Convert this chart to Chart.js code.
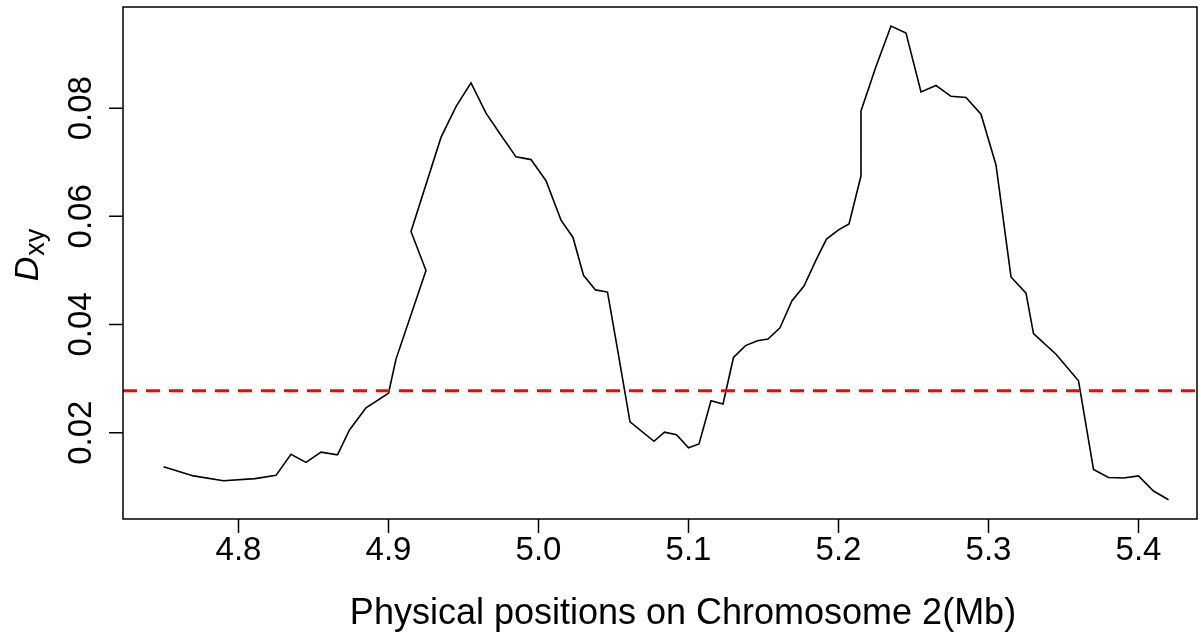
<!DOCTYPE html>
<html><head><meta charset="utf-8">
<script src="https://cdn.jsdelivr.net/npm/chart.js@4/dist/chart.umd.min.js"></script>
<style>html,body{margin:0;padding:0;background:#fff;}#wrap{width:1199px;height:639px;}</style>
</head><body><div id="wrap"><canvas id="c" width="1199" height="639"></canvas></div>
<script>
// ---- data ----
const positionsMb = [4.750,4.770,4.790,4.811,4.825,4.835,4.845,4.855,4.866,4.874,4.885,4.900,4.905,4.925,4.915,4.935,4.945,4.955,4.965,4.975,4.985,4.995,5.005,5.015,5.023,5.030,5.038,5.046,5.053,5.061,5.077,5.084,5.092,5.100,5.107,5.115,5.123,5.130,5.138,5.146,5.153,5.161,5.169,5.177,5.185,5.192,5.200,5.207,5.215,5.215,5.225,5.235,5.245,5.255,5.265,5.275,5.285,5.295,5.305,5.315,5.325,5.330,5.345,5.360,5.370,5.380,5.390,5.400,5.410,5.420];
const dxyValues = [0.0137,0.0120,0.0111,0.0115,0.0121,0.0160,0.0145,0.0164,0.0159,0.0205,0.0246,0.0273,0.0336,0.0500,0.0572,0.0746,0.0803,0.0847,0.0791,0.0750,0.0710,0.0705,0.0666,0.0593,0.0561,0.0491,0.0464,0.0460,0.0349,0.0220,0.0184,0.0201,0.0196,0.0172,0.0179,0.0259,0.0253,0.0339,0.0361,0.0370,0.0373,0.0394,0.0444,0.0471,0.0519,0.0558,0.0575,0.0586,0.0675,0.0795,0.0877,0.0952,0.0939,0.0830,0.0842,0.0822,0.0820,0.0789,0.0695,0.0488,0.0458,0.0383,0.0345,0.0296,0.0132,0.0117,0.0116,0.0120,0.0092,0.0076];
const thresholdValue = 0.02775;
const xTickValues = [4.8,4.9,5.0,5.1,5.2,5.3,5.4];
const xTickLabels = ['4.8','4.9','5.0','5.1','5.2','5.3','5.4'];
const yTickValues = [0.02,0.04,0.06,0.08];
const yTickLabels = ['0.02','0.04','0.06','0.08'];
const xAxisTitle = 'Physical positions on Chromosome 2(Mb)';
const yAxisTitleMain = 'D';
const yAxisTitleSub = 'xy';
const xRange = [4.723, 5.439];
const yRange = [0.00403, 0.09872];

// ---- styling ----
const FAM = '"Liberation Sans", Arial, Helvetica, sans-serif';

function drawText(ctx, text, x, y, rotate) {
  ctx.save();
  ctx.translate(x, y);
  if (rotate) ctx.rotate(-Math.PI / 2);
  ctx.fillText(text, 0, 0);
  ctx.restore();
}

const rAxes = {
  id: 'rAxes',
  afterDraw(chart) {
    const {ctx, chartArea: a, scales: {x, y}} = chart;
    ctx.save();
    ctx.strokeStyle = '#000';
    ctx.lineWidth = 1.5;
    ctx.strokeRect(a.left, a.top, a.right - a.left, a.bottom - a.top);
    ctx.beginPath();
    xTickValues.forEach(v => {
      const px = x.getPixelForValue(v);
      ctx.moveTo(px, a.bottom); ctx.lineTo(px, a.bottom + 14);
    });
    yTickValues.forEach(v => {
      const py = y.getPixelForValue(v);
      ctx.moveTo(a.left, py); ctx.lineTo(a.left - 14, py);
    });
    ctx.stroke();

    ctx.fillStyle = '#000';
    ctx.textBaseline = 'alphabetic';
    ctx.textAlign = 'center';
    ctx.font = '33px ' + FAM;
    xTickValues.forEach((v, i) => drawText(ctx, xTickLabels[i], x.getPixelForValue(v), 560, false));
    yTickValues.forEach((v, i) => drawText(ctx, yTickLabels[i], 91, y.getPixelForValue(v), true));
    ctx.font = '36px ' + FAM;
    drawText(ctx, xAxisTitle, 683, 624, false);

    // y title: italic D with subscript xy, rotated
    const mainFont = 'italic 34px ' + FAM;
    const subFont = '27px ' + FAM;
    ctx.font = mainFont; const wD = ctx.measureText(yAxisTitleMain).width;
    ctx.font = subFont; const wS = ctx.measureText(yAxisTitleSub).width;
    const total = wD + wS + 1;
    ctx.save();
    ctx.translate(38, 255);
    ctx.rotate(-Math.PI / 2);
    ctx.textAlign = 'left';
    ctx.font = mainFont;
    ctx.fillText(yAxisTitleMain, -total / 2, 0);
    ctx.font = subFont;
    ctx.fillText(yAxisTitleSub, -total / 2 + wD + 1, 6);
    ctx.restore();
    ctx.restore();
  }
};

new Chart(document.getElementById('c'), {
  type: 'scatter',
  data: {
    datasets: [
      {
        label: 'threshold',
        data: [{x: xRange[0], y: thresholdValue}, {x: xRange[1], y: thresholdValue}],
        showLine: true, borderColor: '#ff0000', borderWidth: 3, borderDash: [14, 9],
        pointRadius: 0, order: 0
      },
      {
        label: 'Dxy',
        data: positionsMb.map((p, i) => ({x: p, y: dxyValues[i]})),
        showLine: true, borderColor: '#000000', borderWidth: 1.6, tension: 0,
        pointRadius: 0, order: 1
      }
    ]
  },
  options: {
    responsive: false, animation: false, devicePixelRatio: 1,
    layout: {padding: {left: 123, top: 7, right: 2, bottom: 120}},
    plugins: {legend: {display: false}, tooltip: {enabled: false}},
    scales: {
      x: {type: 'linear', min: xRange[0], max: xRange[1], display: false},
      y: {type: 'linear', min: yRange[0], max: yRange[1], display: false}
    }
  },
  plugins: [rAxes]
});
</script>
</body></html>
